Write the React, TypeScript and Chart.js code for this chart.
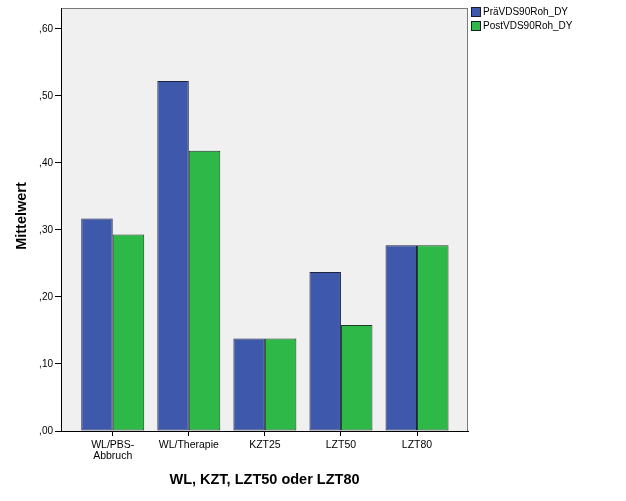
import React, { useEffect, useRef } from 'react';
import { Chart, registerables } from 'chart.js';

Chart.register(...registerables);

const categories: (string | string[])[] = [['WL/PBS-', 'Abbruch'], 'WL/Therapie', 'KZT25', 'LZT50', 'LZT80'];
const preValues = [0.317, 0.522, 0.138, 0.237, 0.277];
const postValues = [0.293, 0.418, 0.138, 0.158, 0.277];
const seriesNames = ['PräVDS90Roh_DY', 'PostVDS90Roh_DY'];
const seriesColors = ['#3e58ac', '#2eb848'];
const yTickValues = [0, 0.1, 0.2, 0.3, 0.4, 0.5, 0.6];
const xTitle = 'WL, KZT, LZT50 oder LZT80';
const yTitle = 'Mittelwert';

const framePlugin = {
  id: 'frame',
  beforeDraw(chart: any) {
    const { ctx, chartArea: a } = chart;
    ctx.save();
    ctx.fillStyle = '#f0f0f0';
    ctx.fillRect(a.left, a.top, a.right - a.left, a.bottom - a.top);
    ctx.strokeStyle = '#7a7a7a';
    ctx.lineWidth = 1;
    ctx.strokeRect(a.left + 0.5, a.top + 0.5, a.right - a.left - 1, a.bottom - a.top);
    ctx.restore();
  },
  afterDraw(chart: any) {
    const { ctx, chartArea: a } = chart;
    ctx.save();
    ctx.fillStyle = '#000';
    ctx.font = 'bold 14.5px "Liberation Sans", Arial, sans-serif';
    ctx.textAlign = 'center';
    ctx.textBaseline = 'alphabetic';
    ctx.fillText(xTitle, (a.left + a.right) / 2, 483.5);
    ctx.save();
    ctx.translate(25.5, 216);
    ctx.rotate(-Math.PI / 2);
    ctx.font = 'bold 14.5px "Liberation Sans", Arial, sans-serif';
    ctx.fillText(yTitle, 0, 0);
    ctx.restore();
    ctx.font = '10px "Liberation Sans", Arial, sans-serif';
    ctx.textAlign = 'left';
    ctx.textBaseline = 'middle';
    seriesNames.forEach((name, i) => {
      const y = 7 + i * 14;
      ctx.fillStyle = seriesColors[i];
      ctx.fillRect(471, y, 10, 10);
      ctx.strokeStyle = '#1a1a2a';
      ctx.lineWidth = 1;
      ctx.strokeRect(471.5, y + 0.5, 9, 9);
      ctx.fillStyle = '#000';
      ctx.fillText(name, 483, y + 5.5);
    });
    ctx.restore();
  },
};

export default function App() {
  const ref = useRef<HTMLCanvasElement | null>(null);
  useEffect(() => {
    if (!ref.current) return;
    const chart = new Chart(ref.current, {
      type: 'bar',
      data: {
        datasets: [
          {
            label: seriesNames[0],
            data: preValues.map((v, i) => ({ x: i, y: v })),
            backgroundColor: seriesColors[0],
            borderColor: '#1e2440',
            borderWidth: 1,
            borderSkipped: false,
          },
          {
            label: seriesNames[1],
            data: postValues.map((v, i) => ({ x: i, y: v })),
            backgroundColor: seriesColors[1],
            borderColor: '#1e3a24',
            borderWidth: 1,
            borderSkipped: false,
          },
        ],
      },
      options: {
        responsive: false,
        animation: false,
        events: [],
        layout: { padding: { left: 0, top: 5, right: 158, bottom: 0 } },
        plugins: { legend: { display: false }, tooltip: { enabled: false } },
        datasets: { bar: { categoryPercentage: 0.828, barPercentage: 1 } },
        scales: {
          x: {
            type: 'linear',
            min: -0.68,
            max: 4.67,
            offset: false,
            afterFit: (s: any) => { s.height = 70; },
            afterBuildTicks: (s: any) => { s.ticks = categories.map((_, i) => ({ value: i })); },
            grid: { offset: false, drawOnChartArea: false, drawTicks: true, tickLength: 5, color: '#000' },
            border: { display: true, color: '#000', width: 1 },
            ticks: {
              padding: 4,
              maxRotation: 0,
              autoSkip: false,
              color: '#000',
              font: { family: '"Liberation Sans", Arial, sans-serif', size: 10.5, lineHeight: 1.0 },
              callback: (v: any) => categories[Math.round(Number(v))] ?? '',
            },
          },
          y: {
            type: 'linear',
            min: 0,
            max: 0.631,
            afterFit: (s: any) => { s.width = 61; },
            afterBuildTicks: (s: any) => { s.ticks = yTickValues.map((v) => ({ value: v })); },
            grid: { drawOnChartArea: false, drawTicks: true, tickLength: 6, color: '#000' },
            border: { display: true, color: '#000', width: 1 },
            ticks: {
              padding: 2,
              color: '#000',
              font: { family: '"Liberation Sans", Arial, sans-serif', size: 10 },
              callback: (v: any) => Number(v).toFixed(2).replace(/^0\./, ','),
            },
          },
        },
      } as any,
      plugins: [framePlugin],
    });
    return () => chart.destroy();
  }, []);
  return (
    <div style={{ position: 'fixed', left: 0, top: 0, width: 626, height: 501, background: '#fff' }}>
      <canvas ref={ref} width={626} height={501} style={{ display: 'block' }} />
    </div>
  );
}
